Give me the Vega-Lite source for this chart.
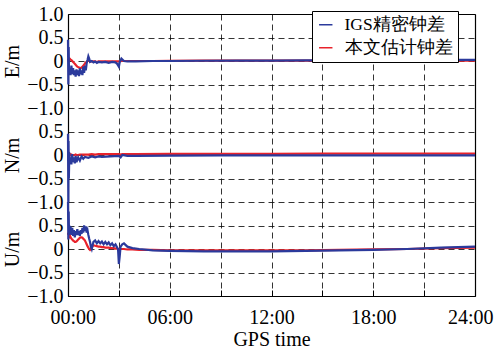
{
"$schema": "https://vega.github.io/schema/vega-lite/v6.json",
"padding": {"left": 2, "top": 4, "right": 2, "bottom": 0},
"background": "white",
"spacing": 0,
"bounds": "flush",
"config": {
 "view": {"stroke": null},
 "font": "Liberation Serif",
 "axis": {"labelFont": "Liberation Serif", "titleFont": "Liberation Serif", "labelColor": "black", "titleColor": "black", "labelFontSize": 20, "titleFontSize": 20, "titleFontWeight": "normal", "gridColor": "black", "gridDash": [6, 4], "gridOpacity": 1, "gridWidth": 0.8, "domainColor": "black", "domainWidth": 1.2, "tickColor": "black", "labelOverlap": false}
},
"datasets": {
 "E": [
  {"t":0,"igs":0.45,"est":0.05},{"t":0.02,"igs":-0.5,"est":0.02},{"t":0.04,"igs":0.3,"est":0},{"t":0.06,"igs":-0.3,"est":0.03},
  {"t":0.1,"igs":-0.15,"est":0.05},{"t":0.15,"igs":-0.3,"est":0.03},{"t":0.2,"igs":-0.1,"est":0.02},{"t":0.25,"igs":-0.28,"est":0},
  {"t":0.3,"igs":-0.15,"est":-0.02},{"t":0.35,"igs":-0.3,"est":-0.04},{"t":0.4,"igs":-0.2,"est":-0.06},{"t":0.45,"igs":-0.33,"est":-0.08},
  {"t":0.5,"igs":-0.18,"est":-0.1},{"t":0.55,"igs":-0.3,"est":-0.12},{"t":0.6,"igs":-0.2,"est":-0.13},{"t":0.65,"igs":-0.32,"est":-0.14},
  {"t":0.7,"igs":-0.15,"est":-0.15},{"t":0.75,"igs":-0.28,"est":-0.15},{"t":0.8,"igs":-0.2,"est":-0.14},{"t":0.85,"igs":-0.3,"est":-0.12},
  {"t":0.9,"igs":-0.12,"est":-0.1},{"t":0.95,"igs":-0.25,"est":-0.08},{"t":1.0,"igs":-0.1,"est":-0.05},{"t":1.05,"igs":-0.2,"est":-0.03},
  {"t":1.1,"igs":-0.05,"est":-0.02},{"t":1.15,"igs":0.02,"est":0},{"t":1.2,"igs":0.1,"est":0},{"t":1.25,"igs":0.05,"est":0},
  {"t":1.3,"igs":-0.02,"est":-0.01},{"t":1.4,"igs":0,"est":-0.01},{"t":1.5,"igs":-0.03,"est":-0.01},{"t":1.6,"igs":-0.01,"est":-0.01},
  {"t":1.7,"igs":-0.04,"est":-0.02},{"t":1.8,"igs":-0.02,"est":-0.01},{"t":2.0,"igs":-0.03,"est":-0.01},{"t":2.2,"igs":-0.02,"est":-0.01},
  {"t":2.4,"igs":-0.04,"est":-0.01},{"t":2.6,"igs":-0.02,"est":-0.01},{"t":2.8,"igs":-0.03,"est":-0.01},{"t":2.9,"igs":-0.06,"est":-0.01},
  {"t":3.0,"igs":-0.12,"est":-0.01},{"t":3.05,"igs":-0.02,"est":-0.01},{"t":3.15,"igs":0.05,"est":0},{"t":3.3,"igs":0,"est":0},
  {"t":3.5,"igs":-0.01,"est":0},{"t":4,"igs":-0.01,"est":0},{"t":5,"igs":0,"est":0},{"t":6,"igs":0,"est":0.005},
  {"t":8,"igs":0.005,"est":0.01},{"t":10,"igs":0.01,"est":0.01},{"t":12,"igs":0.01,"est":0.01},{"t":14,"igs":0.015,"est":0.01},
  {"t":16,"igs":0.015,"est":0.01},{"t":18,"igs":0.02,"est":0.01},{"t":20,"igs":0.02,"est":0.01},{"t":22,"igs":0.025,"est":0.01},
  {"t":24,"igs":0.025,"est":0.01}
 ],
 "N": [
  {"t":0,"igs":0.45,"est":0.05},{"t":0.02,"igs":-1.0,"est":0},{"t":0.03,"igs":0.3,"est":0.02},{"t":0.05,"igs":-0.5,"est":0},
  {"t":0.08,"igs":0.05,"est":0.03},{"t":0.1,"igs":-0.15,"est":0.02},{"t":0.15,"igs":-0.05,"est":0},{"t":0.2,"igs":-0.2,"est":0.01},
  {"t":0.25,"igs":0.02,"est":0},{"t":0.3,"igs":-0.15,"est":0},{"t":0.35,"igs":-0.05,"est":0},{"t":0.4,"igs":-0.18,"est":0},
  {"t":0.45,"igs":-0.02,"est":0.01},{"t":0.5,"igs":-0.15,"est":0},{"t":0.6,"igs":-0.05,"est":0},{"t":0.7,"igs":-0.12,"est":0.01},
  {"t":0.8,"igs":-0.03,"est":0.01},{"t":0.9,"igs":-0.08,"est":0.01},{"t":1.0,"igs":-0.04,"est":0.01},{"t":1.2,"igs":-0.06,"est":0.01},
  {"t":1.4,"igs":-0.03,"est":0.02},{"t":1.6,"igs":-0.05,"est":0.01},{"t":1.8,"igs":-0.03,"est":0.02},{"t":2.0,"igs":-0.04,"est":0.02},
  {"t":2.5,"igs":-0.03,"est":0.02},{"t":3.0,"igs":-0.02,"est":0.02},{"t":3.1,"igs":-0.05,"est":0.01},{"t":3.2,"igs":0,"est":0.02},
  {"t":3.5,"igs":-0.02,"est":0.02},{"t":4,"igs":-0.02,"est":0.02},{"t":6,"igs":-0.015,"est":0.025},{"t":9,"igs":-0.01,"est":0.025},
  {"t":12,"igs":-0.01,"est":0.025},{"t":15,"igs":-0.01,"est":0.03},{"t":18,"igs":-0.01,"est":0.03},{"t":21,"igs":-0.01,"est":0.03},
  {"t":24,"igs":-0.01,"est":0.03}
 ],
 "U": [
  {"t":0,"igs":1.0,"est":0.35},{"t":0.02,"igs":0.2,"est":0.3},{"t":0.04,"igs":0.8,"est":0.32},{"t":0.06,"igs":0.3,"est":0.3},
  {"t":0.08,"igs":0.5,"est":0.28},{"t":0.1,"igs":0.35,"est":0.3},{"t":0.15,"igs":0.48,"est":0.25},{"t":0.2,"igs":0.3,"est":0.22},
  {"t":0.25,"igs":0.45,"est":0.2},{"t":0.3,"igs":0.28,"est":0.18},{"t":0.35,"igs":0.4,"est":0.17},{"t":0.4,"igs":0.25,"est":0.15},
  {"t":0.45,"igs":0.38,"est":0.15},{"t":0.5,"igs":0.3,"est":0.16},{"t":0.55,"igs":0.42,"est":0.18},{"t":0.6,"igs":0.3,"est":0.2},
  {"t":0.65,"igs":0.38,"est":0.22},{"t":0.7,"igs":0.28,"est":0.24},{"t":0.75,"igs":0.4,"est":0.25},{"t":0.8,"igs":0.32,"est":0.25},
  {"t":0.85,"igs":0.45,"est":0.24},{"t":0.9,"igs":0.35,"est":0.22},{"t":0.95,"igs":0.5,"est":0.2},{"t":1.0,"igs":0.38,"est":0.18},
  {"t":1.05,"igs":0.48,"est":0.14},{"t":1.1,"igs":0.35,"est":0.1},{"t":1.15,"igs":0.4,"est":0.06},{"t":1.2,"igs":0.3,"est":0.03},
  {"t":1.25,"igs":0.22,"est":0},{"t":1.3,"igs":0.15,"est":-0.02},{"t":1.35,"igs":0.05,"est":0},{"t":1.4,"igs":0,"est":0.03},
  {"t":1.45,"igs":0.08,"est":0.06},{"t":1.5,"igs":0.15,"est":0.08},{"t":1.6,"igs":0.18,"est":0.07},{"t":1.7,"igs":0.12,"est":0.06},
  {"t":1.8,"igs":0.17,"est":0.05},{"t":1.9,"igs":0.12,"est":0.05},{"t":2.0,"igs":0.16,"est":0.04},{"t":2.1,"igs":0.1,"est":0.04},
  {"t":2.2,"igs":0.15,"est":0.03},{"t":2.3,"igs":0.1,"est":0.03},{"t":2.4,"igs":0.14,"est":0.03},{"t":2.5,"igs":0.08,"est":0.02},
  {"t":2.6,"igs":0.12,"est":0.02},{"t":2.7,"igs":0.06,"est":0.02},{"t":2.8,"igs":0.1,"est":0.01},{"t":2.9,"igs":0.03,"est":0.01},
  {"t":2.95,"igs":0,"est":0},{"t":3.0,"igs":-0.32,"est":0},{"t":3.05,"igs":-0.15,"est":0},{"t":3.1,"igs":0.05,"est":0},
  {"t":3.2,"igs":0.1,"est":0},{"t":3.3,"igs":0.12,"est":0},{"t":3.5,"igs":0.05,"est":-0.01},{"t":3.8,"igs":0.02,"est":-0.01},
  {"t":4.2,"igs":0,"est":-0.02},{"t":5,"igs":-0.03,"est":-0.02},{"t":6,"igs":-0.04,"est":-0.03},{"t":8,"igs":-0.05,"est":-0.03},
  {"t":10,"igs":-0.05,"est":-0.03},{"t":12,"igs":-0.05,"est":-0.03},{"t":14,"igs":-0.04,"est":-0.03},{"t":16,"igs":-0.03,"est":-0.02},
  {"t":18,"igs":-0.02,"est":-0.01},{"t":20,"igs":0,"est":0},{"t":22,"igs":0.03,"est":0.02},{"t":24,"igs":0.05,"est":0.03}
 ]
},
"resolve": {"scale": {"color": "shared"}},
"vconcat": [
 {
  "width": 407, "height": 94,
  "data": {"name": "E"},
  "transform": [{"fold": ["est", "igs"], "as": ["src", "v"]}],
  "resolve": {"axis": {"x": "independent", "y": "independent"}},
  "layer": [
   {
    "mark": {"type": "line", "strokeWidth": 2.2},
    "encoding": {
     "x": {"field": "t", "type": "quantitative", "scale": {"domain": [0, 24], "nice": false}, "axis": {"values": [0,3,6,9,12,15,18,21,24], "labels": false, "ticks": false, "domain": false, "title": null, "grid": true}},
     "y": {"field": "v", "type": "quantitative", "scale": {"domain": [-1, 1], "nice": false}, "axis": {"values": [-1,-0.5,0,0.5,1], "labelExpr": "datum.value == 0 ? '0' : format(datum.value, '.1f')", "title": "E/m", "ticks": false, "labelPadding": 5, "titlePadding": 4, "grid": true, "domain": true}},
     "color": {"field": "src", "type": "nominal", "scale": {"domain": ["igs", "est"], "range": ["#2b3a9c", "#e8222b"]}, "legend": {"orient": "none", "legendX": 244, "legendY": -3, "title": null, "labelExpr": "datum.label == 'igs' ? 'IGS精密钟差' : '本文估计钟差'", "symbolType": "stroke", "symbolStrokeWidth": 1.5, "symbolSize": 180, "labelFont": "Liberation Serif", "labelFontSize": 17.5, "labelColor": "black", "fillColor": "white", "strokeColor": "black", "padding": 5, "rowPadding": 4, "labelLimit": 300, "labelOffset": 10}}
    }
   },
   {
    "mark": {"type": "point", "opacity": 0},
    "encoding": {
     "x": {"field": "t", "type": "quantitative", "scale": {"domain": [0, 24], "nice": false}, "axis": {"orient": "top", "labels": false, "ticks": false, "grid": false, "domain": true, "title": null}},
     "y": {"field": "v", "type": "quantitative", "scale": {"domain": [-1, 1], "nice": false}, "axis": {"orient": "right", "labels": false, "ticks": false, "grid": false, "domain": true, "title": null}}
    }
   }
  ]
 },
 {
  "width": 407, "height": 94,
  "data": {"name": "N"},
  "transform": [{"fold": ["est", "igs"], "as": ["src", "v"]}],
  "resolve": {"axis": {"x": "independent", "y": "independent"}},
  "layer": [
   {
    "mark": {"type": "line", "strokeWidth": 2.2},
    "encoding": {
     "x": {"field": "t", "type": "quantitative", "scale": {"domain": [0, 24], "nice": false}, "axis": {"values": [0,3,6,9,12,15,18,21,24], "labels": false, "ticks": false, "domain": false, "title": null, "grid": true}},
     "y": {"field": "v", "type": "quantitative", "scale": {"domain": [-1, 1], "nice": false}, "axis": {"values": [-1,-0.5,0,0.5], "labelExpr": "datum.value == 0 ? '0' : format(datum.value, '.1f')", "title": "N/m", "ticks": false, "labelPadding": 5, "titlePadding": 4, "grid": true, "domain": true}},
     "color": {"field": "src", "type": "nominal", "scale": {"domain": ["igs", "est"], "range": ["#2b3a9c", "#e8222b"]}, "legend": {"orient": "none", "legendX": 244, "legendY": -3, "title": null, "labelExpr": "datum.label == 'igs' ? 'IGS精密钟差' : '本文估计钟差'", "symbolType": "stroke", "symbolStrokeWidth": 1.5, "symbolSize": 180, "labelFont": "Liberation Serif", "labelFontSize": 17.5, "labelColor": "black", "fillColor": "white", "strokeColor": "black", "padding": 5, "rowPadding": 4, "labelLimit": 300, "labelOffset": 10}}
    }
   },
   {
    "mark": {"type": "point", "opacity": 0},
    "encoding": {
     "x": {"field": "t", "type": "quantitative", "scale": {"domain": [0, 24], "nice": false}, "axis": null},
     "y": {"field": "v", "type": "quantitative", "scale": {"domain": [-1, 1], "nice": false}, "axis": {"orient": "right", "labels": false, "ticks": false, "grid": false, "domain": true, "title": null}}
    }
   }
  ]
 },
 {
  "width": 407, "height": 94,
  "data": {"name": "U"},
  "transform": [{"fold": ["est", "igs"], "as": ["src", "v"]}],
  "resolve": {"axis": {"x": "independent", "y": "independent"}},
  "layer": [
   {
    "mark": {"type": "line", "strokeWidth": 2.2},
    "encoding": {
     "x": {"field": "t", "type": "quantitative", "scale": {"domain": [0, 24], "nice": false}, "axis": {"values": [0,3,6,9,12,15,18,21,24], "labelExpr": "datum.value % 6 == 0 ? (datum.value < 10 ? '0' : '') + datum.value + ':00' : ''", "labelFlush": true, "labelFlushOffset": 18, "ticks": true, "tickSize": -6, "labelPadding": 17, "title": "GPS time", "titlePadding": 2, "domain": true, "grid": true}},
     "y": {"field": "v", "type": "quantitative", "scale": {"domain": [-1, 1], "nice": false}, "axis": {"values": [-1,-0.5,0,0.5], "labelExpr": "datum.value == 0 ? '0' : format(datum.value, '.1f')", "title": "U/m", "ticks": false, "labelPadding": 5, "titlePadding": 4, "grid": true, "domain": true}},
     "color": {"field": "src", "type": "nominal", "scale": {"domain": ["igs", "est"], "range": ["#2b3a9c", "#e8222b"]}, "legend": {"orient": "none", "legendX": 244, "legendY": -3, "title": null, "labelExpr": "datum.label == 'igs' ? 'IGS精密钟差' : '本文估计钟差'", "symbolType": "stroke", "symbolStrokeWidth": 1.5, "symbolSize": 180, "labelFont": "Liberation Serif", "labelFontSize": 17.5, "labelColor": "black", "fillColor": "white", "strokeColor": "black", "padding": 5, "rowPadding": 4, "labelLimit": 300, "labelOffset": 10}}
    }
   },
   {
    "mark": {"type": "point", "opacity": 0},
    "encoding": {
     "x": {"field": "t", "type": "quantitative", "scale": {"domain": [0, 24], "nice": false}, "axis": null},
     "y": {"field": "v", "type": "quantitative", "scale": {"domain": [-1, 1], "nice": false}, "axis": {"orient": "right", "labels": false, "ticks": false, "grid": false, "domain": true, "title": null}}
    }
   }
  ]
 }
]
}
